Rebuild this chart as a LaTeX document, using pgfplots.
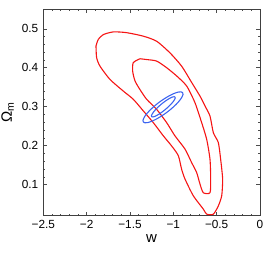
\documentclass[border=0pt]{standalone}
\usepackage{pgfplots}
\pgfplotsset{compat=1.18}
\usepackage{fontspec}
\setmainfont{Liberation Sans}
\definecolor{cred}{RGB}{245,20,20}
\definecolor{cblue}{RGB}{60,100,240}
\begin{document}
\begin{tikzpicture}
\useasboundingbox (-43.3pt,-36.3pt) rectangle (229.7pt,215.7pt);
\begin{axis}[
  at={(0pt,0pt)}, anchor=south west,
  scale only axis,
  width=216.7pt, height=206.4pt,
  xmin=-2.5, xmax=0, ymin=0.02, ymax=0.55,
  xtick={-2.5,-2,-1.5,-1,-0.5,0},
  xticklabels={−2.5,−2,−1.5,−1,−0.5,0},
  ytick={0.1,0.2,0.3,0.4,0.5},
  yticklabels={0.1,0.2,0.3,0.4,0.5},
  minor x tick num=4, minor y tick num=4,
  tick align=inside,
  major tick length=4pt, minor tick length=2pt,
  tick style={gray!60!black, line width=0.5pt},
  axis line style={gray!50!black, line width=0.7pt},
  ticklabel style={font=\fontsize{11.8}{13}\selectfont},
  xticklabel style={yshift=-1.5pt},
  yticklabel style={xshift=-1.5pt},
  xlabel={w}, ylabel={Ω\textsubscript{m}},
  label style={font=\fontsize{15}{17}\selectfont},
  xlabel style={yshift=1.5pt},
  ylabel style={yshift=1pt},
]
% outer red
\addplot[cred, line width=1.1pt, smooth, tension=0.4] coordinates {
(-1.892,0.456) (-1.885,0.426) (-1.846,0.404) (-1.731,0.370) (-1.577,0.340)
(-1.462,0.319) (-1.346,0.289) (-1.231,0.259) (-1.115,0.225) (-1.019,0.199)
(-0.942,0.174) (-0.904,0.139) (-0.865,0.114) (-0.769,0.071) (-0.654,0.037)
(-0.615,0.024) (-0.538,0.024) (-0.481,0.045) (-0.442,0.071) (-0.431,0.114)
(-0.454,0.165) (-0.481,0.208) (-0.538,0.233) (-0.577,0.276) (-0.635,0.302)
(-0.692,0.327) (-0.788,0.362) (-0.904,0.404) (-1.038,0.438) (-1.192,0.468)
(-1.346,0.481) (-1.538,0.490) (-1.692,0.492) (-1.808,0.485) (-1.865,0.473)
(-1.892,0.456)
};
% inner red
\addplot[cred, line width=1.1pt, smooth, tension=0.4] coordinates {
(-1.385,0.423) (-1.462,0.413) (-1.469,0.391) (-1.442,0.366) (-1.385,0.344)
(-1.308,0.319) (-1.192,0.293) (-1.077,0.259) (-0.981,0.225) (-0.865,0.191)
(-0.788,0.156) (-0.731,0.131) (-0.692,0.101) (-0.654,0.079) (-0.577,0.079)
(-0.569,0.114) (-0.577,0.165) (-0.615,0.216) (-0.673,0.259) (-0.750,0.310)
(-0.846,0.353) (-0.962,0.379) (-1.077,0.400) (-1.192,0.417) (-1.308,0.421)
(-1.385,0.423)
};
% outer blue
\addplot[cblue, line width=1.1pt, smooth] coordinates {
(-0.892,0.3359) (-0.911,0.3380) (-0.944,0.3374) (-0.989,0.3341) (-1.043,0.3284)
(-1.102,0.3206) (-1.163,0.3113) (-1.220,0.3011) (-1.270,0.2908) (-1.310,0.2809)
(-1.337,0.2722) (-1.350,0.2653) (-1.346,0.2607) (-1.327,0.2586) (-1.294,0.2592)
(-1.249,0.2625) (-1.195,0.2682) (-1.136,0.2760) (-1.075,0.2853) (-1.018,0.2955)
(-0.968,0.3058) (-0.928,0.3157) (-0.901,0.3244) (-0.888,0.3313) (-0.892,0.3359)
};
% inner blue
\addplot[cblue, line width=1.1pt, smooth] coordinates {
(-0.980,0.3248) (-0.991,0.3256) (-1.011,0.3247) (-1.037,0.3220) (-1.069,0.3179)
(-1.104,0.3124) (-1.140,0.3062) (-1.174,0.2994) (-1.204,0.2927) (-1.228,0.2864)
(-1.244,0.2811) (-1.252,0.2770) (-1.250,0.2744) (-1.239,0.2736) (-1.219,0.2745)
(-1.193,0.2772) (-1.161,0.2813) (-1.126,0.2868) (-1.090,0.2931) (-1.056,0.2998)
(-1.026,0.3065) (-1.002,0.3128) (-0.986,0.3181) (-0.978,0.3222) (-0.980,0.3248)
};
\end{axis}
\end{tikzpicture}
\end{document}
